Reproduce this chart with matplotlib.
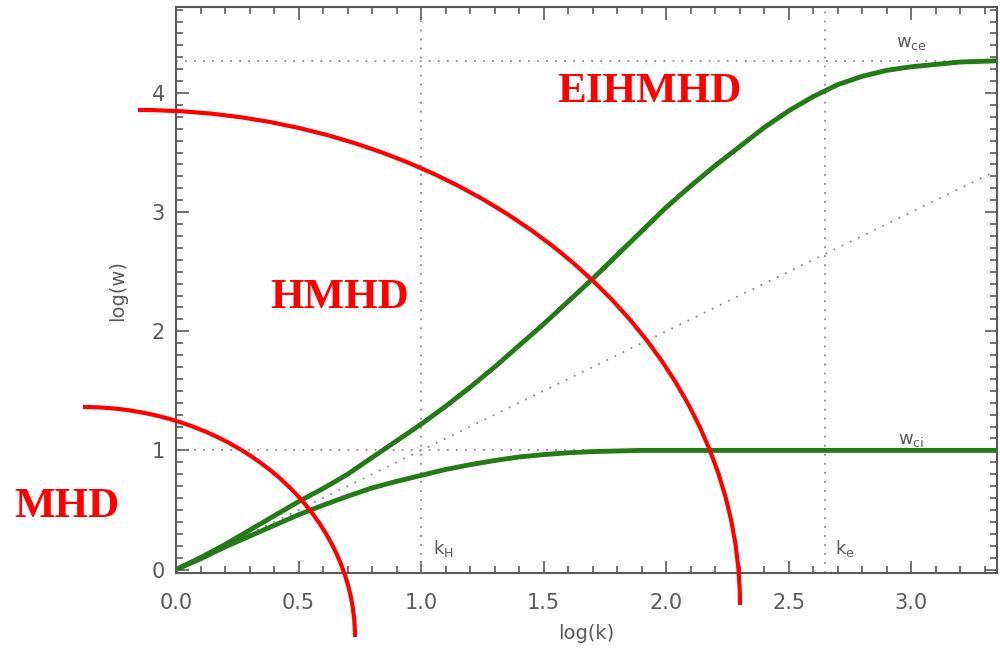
import matplotlib.pyplot as plt
import numpy as np
from matplotlib.ticker import MultipleLocator
from matplotlib.patches import Arc

# log(k) sample points and the two dispersion branches
logk = [0.0, 0.1, 0.2, 0.3, 0.4, 0.5, 0.6, 0.7, 0.8, 0.9, 1.0, 1.1, 1.2,
        1.3, 1.4, 1.5, 1.6, 1.7, 1.8, 1.9, 2.0, 2.1, 2.2, 2.3, 2.4, 2.5,
        2.6, 2.7, 2.8, 2.9, 3.0, 3.1, 3.2, 3.35]
logw_upper = [0.0, 0.1, 0.21, 0.33, 0.45, 0.57, 0.68, 0.8, 0.94, 1.08, 1.22,
              1.37, 1.53, 1.7, 1.88, 2.06, 2.25, 2.44, 2.64, 2.84, 3.04,
              3.22, 3.39, 3.55, 3.71, 3.85, 3.97, 4.07, 4.14, 4.19, 4.22,
              4.24, 4.26, 4.27]
logw_lower = [0.0, 0.09, 0.19, 0.28, 0.37, 0.46, 0.54, 0.615, 0.685, 0.74,
              0.79, 0.84, 0.88, 0.915, 0.945, 0.965, 0.98, 0.99, 0.995, 1.0,
              1.0, 1.0, 1.0, 1.0, 1.0, 1.0, 1.0, 1.0, 1.0, 1.0, 1.0, 1.0,
              1.0, 1.0]

w_ci = 1.0
w_ce = 4.27
k_H = 1.0
k_e = 2.65

gray = '#5a5a5a'
dotc = '#8a8a8a'
green = '#237a17'
dots = (0, (1, 4))

fig = plt.figure(figsize=(10, 6.55), dpi=100)
ax = fig.add_axes([0.176, 0.125, 0.821, 0.864])
ax.set_xlim(0, 3.35)
ax.set_ylim(-0.03, 4.72)

# reference lines
ax.axhline(w_ci, color=dotc, ls=dots, lw=1.3)
ax.axhline(w_ce, color=dotc, ls=dots, lw=1.3)
ax.axvline(k_H, color=dotc, ls=dots, lw=1.3)
ax.axvline(k_e, color=dotc, ls=dots, lw=1.3)
ax.plot([0, 3.35], [0, 3.35], color=dotc, ls=dots, lw=1.3)

ax.plot(logk, logw_upper, color=green, lw=3.5, solid_capstyle='butt')
ax.plot(logk, logw_lower, color=green, lw=3.5, solid_capstyle='butt')

ax.text(3.0, w_ce + 0.12, r'w$_{\rm ce}$', color=gray, fontsize=13, ha='center')
ax.text(3.0, w_ci + 0.05, r'w$_{\rm ci}$', color=gray, fontsize=13, ha='center')
ax.text(k_H + 0.09, 0.13, r'k$_{\rm H}$', color=gray, fontsize=13, ha='center')
ax.text(k_e + 0.08, 0.13, r'k$_{\rm e}$', color=gray, fontsize=13, ha='center')

ax.set_xlabel('log(k)', color=gray, fontsize=14, labelpad=8)
ax.set_ylabel('log(w)', color=gray, fontsize=14, labelpad=18)
ax.xaxis.set_major_locator(MultipleLocator(0.5))
ax.xaxis.set_minor_locator(MultipleLocator(0.1))
ax.yaxis.set_major_locator(MultipleLocator(1))
ax.yaxis.set_minor_locator(MultipleLocator(0.1))
ax.xaxis.set_major_formatter(plt.FormatStrFormatter('%.1f'))
ax.tick_params(which='both', direction='in', top=True, right=True,
               color=gray, labelcolor=gray, labelsize=15, width=1.2)
ax.tick_params(which='major', length=9)
ax.tick_params(axis='x', which='major', pad=14)
ax.tick_params(axis='y', which='major', pad=8)
ax.tick_params(which='minor', length=5)
for s in ax.spines.values():
    s.set_color(gray)
    s.set_linewidth(1.5)

# region boundaries drawn in figure pixels
W, H = 1000, 655
for cx, cy, rx, ry in [(138, 605, 602, 495), (83, 637, 272, 230)]:
    arc = Arc((cx / W, 1 - cy / H), 2 * rx / W, 2 * ry / H, theta1=0,
              theta2=90, color='red', lw=3, transform=fig.transFigure,
              clip_on=False)
    fig.add_artist(arc)

txt = dict(color='red', fontsize=31, fontweight='bold',
           family='Liberation Serif', ha='center', va='center')
fig.text(649 / W, 1 - 92 / H, 'EIHMHD', **txt)
fig.text(340 / W, 1 - 298 / H, 'HMHD', **txt)
fig.text(67 / W, 1 - 507 / H, 'MHD', **txt)

fig.savefig('out.png', dpi=100)
